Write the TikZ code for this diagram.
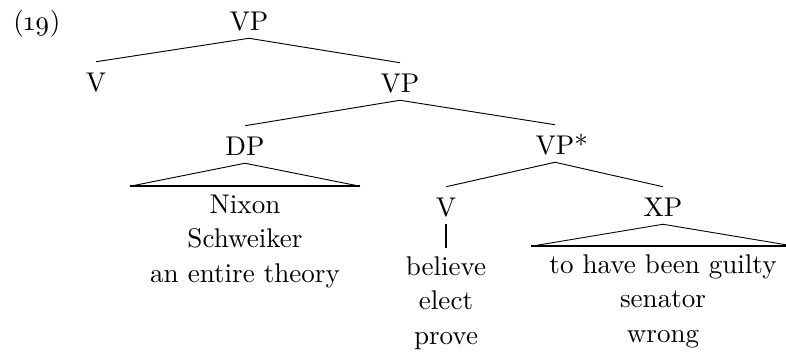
\documentclass[tikz,border=0pt]{standalone}
\usepackage{fontspec}
\setmainfont{lmroman10-regular.otf}
\usetikzlibrary{calc}
\begin{document}
\begin{tikzpicture}[x=0.75pt,y=-0.75pt,
  every node/.style={font=\fontsize{20.3pt}{25.9pt}\selectfont},
  cat/.style={anchor=base, inner xsep=2pt, inner ysep=6pt,
              text height=15.75pt, text depth=0pt},
  leaf/.style={anchor=north, inner sep=0pt, align=center},
  branch/.style={line width=0.7pt},
  bar/.style={line width=1.4pt}]
\useasboundingbox (0,0) rectangle (786,354);

% example number
\node[anchor=base west, inner sep=0pt] (exnum) at (13,30) {(\oldstylenums{19})};

% category labels
\node[cat] (vp0) at (249,30)  {VP};
\node[cat] (v1)  at (96,91)   {V};
\node[cat] (vp1) at (400,92)  {VP};
\node[cat] (dp)  at (245,155) {DP};
\node[cat] (vps) at (555,154) {VP\rlap{*}};
\node[cat] (v2)  at (446,216) {V};
\node[cat] (xp)  at (663,216) {XP};

% branches
\draw[branch] (v1.north) -- (vp0.south) -- (vp1.north);
\draw[branch] (dp.north) -- (vp1.south) -- (vps.north);
\draw[branch] (v2.north) -- (vps.south) -- (xp.north);

% DP roof
\coordinate (dpL) at ($(dp.south)+(-115,23)$);
\coordinate (dpR) at ($(dp.south)+(115,23)$);
\draw[branch] (dpL) -- (dp.south) -- (dpR);
\draw[bar] (dpL) -- (dpR);
\node[leaf] (dpw) at ($(dpL)!0.5!(dpR)+(0,8)$) {Nixon\\Schweiker\\an entire theory};

% V to its words
\coordinate (v2end) at ($(v2.south)+(0,24)$);
\draw[bar] (v2.south) -- (v2end);
\node[leaf] (v2w) at ($(v2end)+(0,8)$) {believe\\elect\\prove};

% XP roof
\coordinate (xpL) at ($(xp.south)+(-132,22)$);
\coordinate (xpR) at ($(xp.south)+(132,22)$);
\draw[branch] (xpL) -- (xp.south) -- (xpR);
\draw[bar] (xpL) -- (xpR);
\node[leaf] (xpw) at ($(xpL)!0.5!(xpR)+(0,8)$) {to have been guilty\\senator\\wrong};
\end{tikzpicture}
\end{document}
